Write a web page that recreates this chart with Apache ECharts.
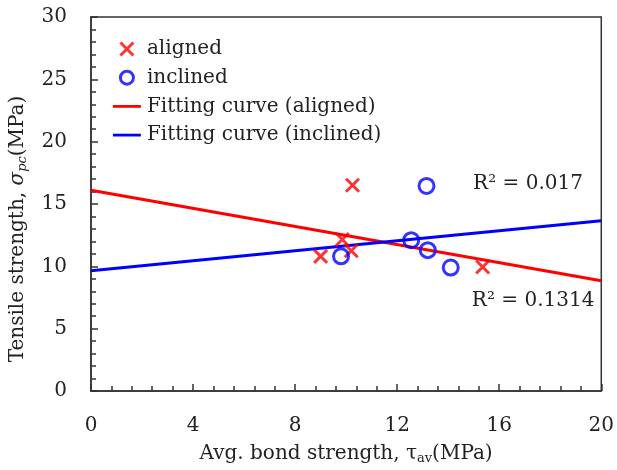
<!DOCTYPE html>
<html>
<head>
<meta charset="utf-8">
<script src="https://cdn.jsdelivr.net/npm/echarts@6/dist/echarts.min.js"></script>
<style>
html,body{margin:0;padding:0;background:#fff;}
#chart{width:617px;height:470px;}
</style>
</head>
<body>
<div id="chart"></div>
<script>
// ---- data ----
var alignedX = [9.0, 10.25, 9.85, 10.2, 15.35];
var alignedY = [10.8, 16.5, 12.15, 11.25, 9.95];
var inclinedX = [9.8, 13.15, 12.55, 13.2, 14.1];
var inclinedY = [10.8, 16.45, 12.1, 11.3, 9.9];
var fitX = [0, 20];
var fitAlignedY = [16.1, 8.85];
var fitInclinedY = [9.65, 13.65];
var xTicks = [0, 4, 8, 12, 16, 20];
var yTicks = [0, 5, 10, 15, 20, 25, 30];
var annotX = [19.3, 19.75];
var annotY = [16.65, 7.25];
var annotText = ['R² = 0.017', 'R² = 0.1314'];
var seriesNames = ['aligned', 'inclined', 'Fitting curve (aligned)', 'Fitting curve (inclined)'];

function pairs(xs, ys) { return xs.map(function (x, i) { return [x, ys[i]]; }); }

var FONT = 'DejaVu Serif';
var TXT = '#222';
var AX = '#333';
var LINE_ICON = 'path://M0,0L0,0M0,5.5h30v3h-30zM30,14L30,14';

var chart = echarts.init(document.getElementById('chart'));
chart.setOption({
  animation: false,
  backgroundColor: '#fff',
  textStyle: { fontFamily: FONT },
  grid: { left: 91, right: 14, top: 17, bottom: 77, show: true, borderColor: AX, borderWidth: 1.5 },
  legend: {
    data: [
      { name: seriesNames[0], itemStyle: { borderWidth: 3 } },
      { name: seriesNames[1], itemStyle: { borderWidth: 3 } },
      { name: seriesNames[2], icon: LINE_ICON },
      { name: seriesNames[3], icon: LINE_ICON }
    ],
    orient: 'vertical',
    left: 108,
    top: 34,
    itemWidth: 30,
    itemHeight: 13,
    itemGap: 8.7,
    textStyle: { fontFamily: FONT, fontSize: 20, color: TXT }
  },
  xAxis: {
    type: 'value', min: xTicks[0], max: xTicks[xTicks.length - 1], interval: 4,
    splitLine: { show: false },
    axisLine: { lineStyle: { color: AX, width: 1.5 } },
    axisTick: { inside: true, length: 7, lineStyle: { color: AX, width: 1.5 } },
    minorTick: { show: true, splitNumber: 5, length: 5, lineStyle: { color: AX, width: 1.5 } },
    axisLabel: { margin: 25, fontFamily: FONT, fontSize: 20, color: TXT },
    name: '{n|Avg. bond strength, τ}{sub|av}{n|(MPa)}',
    nameLocation: 'middle',
    nameGap: 52,
    nameTextStyle: {
      rich: {
        n: { fontFamily: FONT, fontSize: 20, color: TXT },
        sub: { fontFamily: FONT, fontSize: 13, color: TXT, padding: [9, 0, 0, 0] }
      }
    }
  },
  yAxis: {
    type: 'value', min: yTicks[0], max: yTicks[yTicks.length - 1], interval: 5,
    splitLine: { show: false },
    axisLine: { lineStyle: { color: AX, width: 1.5 } },
    axisTick: { inside: true, length: 7, lineStyle: { color: AX, width: 1.5 } },
    minorTick: { show: true, splitNumber: 5, length: 5, lineStyle: { color: AX, width: 1.5 } },
    axisLabel: { margin: 24, fontFamily: FONT, fontSize: 20, color: TXT },
    name: '{n|Tensile strength, }{i|σ}{sub|pc}{n|(MPa)}',
    nameLocation: 'middle',
    nameGap: 62,
    nameRotate: 90,
    nameTextStyle: {
      padding: [0, 50, 0, 0],
      rich: {
        n: { fontFamily: FONT, fontSize: 20, color: TXT },
        i: { fontFamily: FONT, fontSize: 20, color: TXT, fontStyle: 'italic' },
        sub: { fontFamily: FONT, fontSize: 13, color: TXT, fontStyle: 'italic', padding: [9, 0, 0, 0] }
      }
    }
  },
  series: [
    {
      name: seriesNames[0], type: 'scatter',
      symbol: 'path://M0,0L10,10M10,0L0,10', symbolSize: 13,
      itemStyle: { color: 'rgba(0,0,0,0)', borderColor: '#ff0000', borderWidth: 3 },
      data: pairs(alignedX, alignedY), z: 5
    },
    {
      name: seriesNames[1], type: 'scatter',
      symbol: 'circle', symbolSize: 15,
      itemStyle: { color: 'rgba(0,0,0,0)', borderColor: '#0000ff', borderWidth: 3 },
      data: pairs(inclinedX, inclinedY), z: 5
    },
    {
      name: seriesNames[2], type: 'line', symbol: 'none',
      lineStyle: { color: '#ff0000', width: 3 }, itemStyle: { color: '#ff0000' },
      data: pairs(fitX, fitAlignedY), z: 3
    },
    {
      name: seriesNames[3], type: 'line', symbol: 'none',
      lineStyle: { color: '#0000ff', width: 3 }, itemStyle: { color: '#0000ff' },
      data: pairs(fitX, fitInclinedY), z: 3
    },
    {
      name: 'annot', type: 'scatter', symbol: 'circle', symbolSize: 1, silent: true,
      itemStyle: { color: '#ffffff', opacity: 1 },
      label: { show: true, position: 'left', distance: 0, formatter: function (p) { return p.name; },
               fontFamily: FONT, fontSize: 20, color: TXT, opacity: 1 },
      data: annotX.map(function (x, i) { return { name: annotText[i], value: [x, annotY[i]] }; })
    }
  ]
});
</script>
</body>
</html>
